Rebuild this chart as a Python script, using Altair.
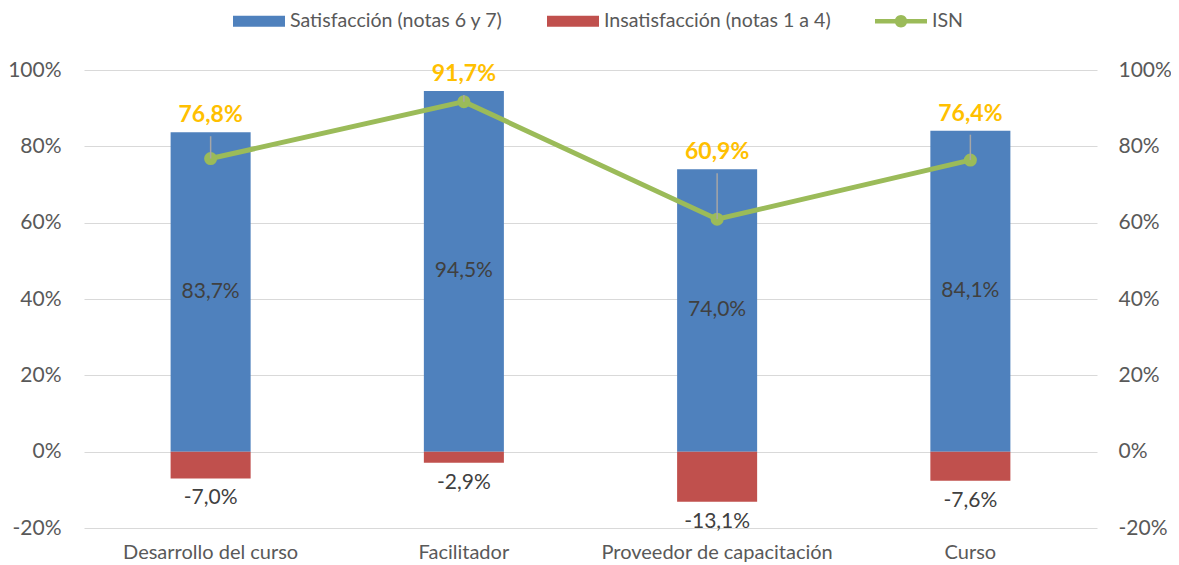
import altair as alt
import pandas as pd

categorias = ["Desarrollo del curso", "Facilitador", "Proveedor de capacitación", "Curso"]
satisfaccion = [83.7, 94.5, 74.0, 84.1]
insatisfaccion = [-7.0, -2.9, -13.1, -7.6]
isn = [76.8, 91.7, 60.9, 76.4]
series = ["Satisfacción (notas 6 y 7)", "Insatisfacción (notas 1 a 4)", "ISN"]
y_ticks = [-0.2, 0.0, 0.2, 0.4, 0.6, 0.8, 1.0]

BLUE = "#4F81BD"
RED = "#C0504D"
GREEN = "#9BBB59"
ORANGE = "#FFC000"
FONT = "Lato"


def pct(v):
    return f"{v:.1f}".replace(".", ",") + "%"


df = pd.DataFrame({
    "cat": categorias,
    "sat": [v / 100 for v in satisfaccion],
    "ins": [v / 100 for v in insatisfaccion],
    "isn": [v / 100 for v in isn],
    "sat_lbl": [pct(v) for v in satisfaccion],
    "ins_lbl": [pct(v) for v in insatisfaccion],
    "isn_lbl": [pct(v) for v in isn],
})
df["sat_mid"] = df["sat"] / 2

legend_df = pd.DataFrame({"serie": series})

# legend swatches: symbol box is 20px (size 400), paths extend to the right
rect_path = "M-1,-0.55 H4.2 V0.55 H-1 Z"
line_path = ("M-1,-0.23 H4.2 V0.23 H-1 Z "
             "M2.22,0 A0.62,0.62 0 1,1 0.98,0 A0.62,0.62 0 1,1 2.22,0 Z")

yscale = alt.Scale(domain=[-0.2, 1.0], nice=False, zero=False)
xenc = alt.X(
    "cat:N", sort=categorias,
    scale=alt.Scale(paddingInner=0.684, paddingOuter=0.342),
    axis=alt.Axis(title=None, labelAngle=0, domain=False, ticks=False,
                  labelFontSize=20, labelColor="#595959", labelFont=FONT,
                  labelPadding=14, grid=False, labelLimit=0),
)
label_expr = "round(datum.value*100) + '%'"

base = alt.Chart(df)

bars_sat = base.mark_bar(color=BLUE).encode(
    x=xenc,
    y=alt.Y("sat:Q", scale=yscale,
            axis=alt.Axis(values=y_ticks, labelExpr=label_expr, title=None,
                          grid=True, gridColor="#D9D9D9", gridWidth=1,
                          domain=False, ticks=False, labelPadding=23,
                          labelFontSize=21, labelColor="#595959", labelFont=FONT,
                          orient="left")),
)
bars_ins = base.mark_bar(color=RED).encode(
    x=xenc, y=alt.Y("ins:Q", scale=yscale, axis=None),
)
line = base.mark_line(color=GREEN, strokeWidth=5).encode(
    x=xenc,
    y=alt.Y("isn:Q", scale=yscale,
            axis=alt.Axis(values=y_ticks, labelExpr=label_expr, title=None,
                          grid=False, domain=False, ticks=False, labelPadding=21,
                          labelFontSize=21, labelColor="#595959", labelFont=FONT,
                          orient="right")),
)
points = base.mark_circle(color=GREEN, opacity=1, size=170).encode(
    x=xenc, y=alt.Y("isn:Q", scale=yscale, axis=None),
)
leaders = base.mark_rule(color="#A6A6A6", strokeWidth=1.5, yOffset=4).encode(
    x=xenc, y=alt.Y("sat:Q", scale=yscale, axis=None), y2="isn:Q",
)
txt_sat = base.mark_text(fontSize=21, font=FONT, color="#404040", baseline="middle").encode(
    x=xenc, y=alt.Y("sat_mid:Q", scale=yscale, axis=None), text="sat_lbl:N",
)
txt_ins = base.mark_text(fontSize=21, font=FONT, color="#404040", baseline="top", dy=9).encode(
    x=xenc, y=alt.Y("ins:Q", scale=yscale, axis=None), text="ins_lbl:N",
)
txt_isn = base.mark_text(fontSize=23, font=FONT, fontWeight="bold", color=ORANGE,
                         baseline="bottom", dy=-5).encode(
    x=xenc, y=alt.Y("sat:Q", scale=yscale, axis=None), text="isn_lbl:N",
)

legend_layer = alt.Chart(legend_df).transform_filter("false").mark_point(
    filled=True, opacity=1, strokeWidth=0
).encode(
    x=xenc,
    y=alt.value(0),
    color=alt.Color("serie:N",
                    scale=alt.Scale(domain=series, range=[BLUE, RED, GREEN]),
                    legend=alt.Legend(title=None)),
    shape=alt.Shape("serie:N",
                    scale=alt.Scale(domain=series, range=[rect_path, rect_path, line_path]),
                    legend=alt.Legend(title=None)),
)

chart = alt.layer(
    bars_sat, bars_ins, line, points, leaders, txt_sat, txt_ins, txt_isn, legend_layer
).resolve_axis(y="independent").properties(
    width=1013, height=458,
    autosize=alt.AutoSizeParams(type="none"),
    padding={"left": 76, "top": 62, "right": 74, "bottom": 38},
).configure_view(stroke=None).configure_legend(
    orient="none", legendX=149, legendY=-59, direction="horizontal",
    symbolSize=400, symbolStrokeWidth=0, labelFontSize=19.6, labelFont=FONT,
    labelColor="#595959", labelOffset=37, columnPadding=44, padding=0,
    symbolOpacity=1, labelLimit=0,
)

chart.save("out.html", embed_options={"renderer": "svg", "actions": False})
